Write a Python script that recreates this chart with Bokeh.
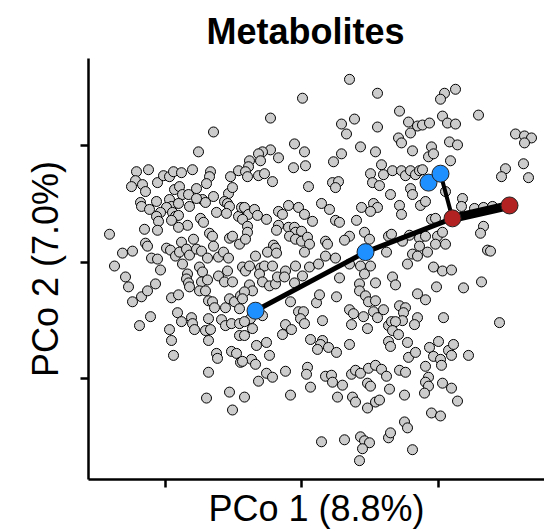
from bokeh.plotting import figure
from bokeh.models import Range1d, FixedTicker, ColumnDataSource
from bokeh.embed import file_html
from bokeh.resources import INLINE

# ---- sample scores (PCo 1, PCo 2), grouped by region ----
pc1_upper_left = [
    -0.088, -0.103, -0.165, -0.153, -0.166, -0.170, -0.159, -0.156, -0.144, -0.138,
    -0.132, -0.128, -0.120, -0.109, -0.091, -0.092, -0.095, -0.071, -0.063, -0.127,
    -0.122, -0.119, -0.113, -0.105, -0.112, -0.145, -0.161, -0.160, -0.152, -0.132,
    -0.130, -0.123, -0.135, -0.141, -0.145, -0.129, -0.126, -0.123, -0.130, -0.143,
    -0.099, -0.096, -0.088, -0.105, -0.073, -0.069, -0.077, -0.074, -0.072, -0.085,
    -0.075, -0.063, -0.060, -0.101, -0.098, -0.114, -0.123, -0.157, -0.144, -0.192,
    -0.108, -0.120, -0.092, -0.089, -0.088, -0.072, -0.069, -0.062, -0.156, -0.154,
    -0.179, -0.169, -0.135, -0.131, -0.126, -0.122, -0.115, -0.112, -0.105, -0.100,
    -0.094, -0.083, -0.078, -0.073, -0.150, -0.144]
pc2_upper_left = [
    0.131, 0.111, 0.091, 0.093, 0.082, 0.076, 0.078, 0.071, 0.080, 0.087,
    0.086, 0.091, 0.090, 0.093, 0.091, 0.086, 0.079, 0.086, 0.092, 0.073,
    0.076, 0.068, 0.068, 0.074, 0.056, 0.061, 0.060, 0.056, 0.053, 0.063,
    0.056, 0.059, 0.055, 0.050, 0.046, 0.050, 0.046, 0.047, 0.042, 0.041,
    0.063, 0.060, 0.066, 0.064, 0.069, 0.075, 0.061, 0.059, 0.056, 0.050,
    0.049, 0.046, 0.055, 0.044, 0.040, 0.037, 0.035, 0.033, 0.032, 0.028,
    0.023, 0.020, 0.029, 0.026, 0.016, 0.024, 0.026, 0.018, 0.019, 0.016,
    0.009, 0.011, 0.014, 0.012, 0.006, 0.010, 0.013, 0.007, 0.013, 0.011,
    0.004, 0.005, 0.010, 0.004, 0.004, 0.003]

pc1_upper_mid = [
    0.048, 0.001, 0.076, -0.031, 0.040, 0.053, 0.045, 0.076, -0.007, 0.003,
    0.059, 0.040, 0.032, 0.074, 0.080, -0.031, -0.039, -0.043, -0.041, -0.052,
    -0.023, -0.053, -0.056, -0.054, -0.043, -0.037, -0.029, -0.008, 0.004, 0.007,
    0.031, 0.037, 0.034, 0.069, 0.082, 0.071, 0.078, 0.089, 0.020, 0.028,
    0.060, 0.072, 0.076, 0.069, -0.057, -0.053, -0.047, -0.044, -0.035, -0.023,
    -0.019, -0.013, -0.003, 0.003, 0.011, -0.059, -0.054, -0.054, -0.056, -0.023,
    -0.025, -0.013, -0.007, -0.006, 0.000, -0.012, -0.006, 0.000, 0.006, 0.008,
    0.034, 0.038, 0.055, 0.063, 0.068, 0.048, 0.043, 0.024, 0.026, 0.087,
    0.090, -0.028, -0.026, -0.034, -0.025, -0.046, 0.003, 0.024, 0.034, 0.085]
pc2_upper_mid = [
    0.184, 0.165, 0.170, 0.145, 0.139, 0.144, 0.129, 0.136, 0.119, 0.111,
    0.116, 0.109, 0.101, 0.111, 0.098, 0.113, 0.111, 0.109, 0.102, 0.102,
    0.105, 0.096, 0.091, 0.086, 0.087, 0.089, 0.081, 0.095, 0.097, 0.076,
    0.080, 0.081, 0.075, 0.089, 0.088, 0.080, 0.077, 0.068, 0.059, 0.053,
    0.055, 0.059, 0.055, 0.051, 0.055, 0.048, 0.053, 0.047, 0.043, 0.051,
    0.048, 0.057, 0.055, 0.048, 0.041, 0.043, 0.036, 0.030, 0.023, 0.037,
    0.032, 0.035, 0.035, 0.030, 0.031, 0.026, 0.023, 0.021, 0.025, 0.018,
    0.042, 0.040, 0.042, 0.030, 0.023, 0.026, 0.022, 0.021, 0.018, 0.026,
    0.028, 0.017, 0.014, 0.010, 0.009, 0.006, 0.010, 0.006, 0.004, 0.010]

pc1_upper_right = [
    0.154, 0.143, 0.139, 0.098, 0.177, 0.141, 0.146, 0.154, 0.107, 0.116,
    0.121, 0.128, 0.097, 0.100, 0.109, 0.148, 0.156, 0.111, 0.130, 0.127,
    0.132, 0.214, 0.223, 0.230, 0.223, 0.149, 0.204, 0.200, 0.222, 0.227,
    0.091, 0.100, 0.104, 0.109, 0.114, 0.118, 0.121, 0.144, 0.109, 0.111,
    0.098, 0.100, 0.119, 0.124, 0.161, 0.160, 0.173, 0.182, 0.191, 0.130,
    0.134, 0.182, 0.179, 0.108, 0.101, 0.118, 0.124, 0.136, 0.141, 0.134,
    0.144, 0.118, 0.126, 0.111, 0.116, 0.186, 0.189]
pc2_upper_right = [
    0.174, 0.170, 0.164, 0.152, 0.148, 0.147, 0.140, 0.139, 0.141, 0.137,
    0.138, 0.140, 0.125, 0.120, 0.130, 0.121, 0.118, 0.112, 0.116, 0.106,
    0.109, 0.129, 0.127, 0.125, 0.120, 0.102, 0.094, 0.086, 0.099, 0.085,
    0.092, 0.092, 0.087, 0.092, 0.088, 0.092, 0.093, 0.071, 0.074, 0.068,
    0.057, 0.048, 0.057, 0.061, 0.064, 0.056, 0.054, 0.055, 0.056, 0.043,
    0.044, 0.036, 0.029, 0.027, 0.021, 0.024, 0.026, 0.026, 0.030, 0.018,
    0.018, 0.016, 0.010, 0.008, 0.006, 0.012, 0.011]

pc1_lower_left = [
    -0.187, -0.176, -0.173, -0.169, -0.160, -0.154, -0.146, -0.141, -0.130, -0.123,
    -0.124, -0.120, -0.110, -0.109, -0.107, -0.162, -0.151, -0.132, -0.130, -0.128,
    -0.119, -0.114, -0.115, -0.113, -0.112, -0.102, -0.099, -0.100, -0.094, -0.102,
    -0.096, -0.074, -0.083, -0.077, -0.069, -0.093, -0.089, -0.087, -0.076, -0.072,
    -0.067, -0.062, -0.061, -0.093, -0.080, -0.076, -0.070, -0.062, -0.096, -0.091,
    -0.093, -0.062, -0.070, -0.065, -0.061, -0.085, -0.084, -0.093, -0.095, -0.072,
    -0.069, -0.057]
pc2_lower_left = [
    -0.004, -0.015, -0.025, -0.040, -0.035, -0.029, -0.022, -0.008, -0.036, -0.033,
    -0.051, -0.060, -0.056, -0.062, -0.068, -0.064, -0.055, -0.068, -0.079, -0.094,
    -0.002, -0.012, -0.017, -0.021, -0.025, -0.005, -0.010, -0.020, -0.018, -0.029,
    -0.029, -0.009, -0.014, -0.020, -0.020, -0.039, -0.040, -0.046, -0.046, -0.037,
    -0.040, -0.047, -0.034, -0.057, -0.058, -0.064, -0.062, -0.062, -0.069, -0.068,
    -0.079, -0.074, -0.090, -0.092, -0.101, -0.092, -0.097, -0.111, -0.137, -0.131,
    -0.149, -0.136]

pc1_lower_mid = [
    -0.059, -0.056, -0.052, -0.041, -0.037, -0.029, -0.042, -0.039, -0.032, -0.026,
    -0.024, -0.016, -0.017, -0.007, -0.006, 0.001, 0.008, 0.017, -0.052, -0.049,
    -0.057, -0.059, -0.039, -0.051, -0.049, -0.057, -0.057, -0.011, -0.003, 0.002,
    -0.001, 0.003, 0.015, 0.018, 0.035, 0.038, 0.021, -0.016, -0.010, -0.019,
    0.048, 0.059, 0.063, 0.069, 0.058, 0.058, 0.074, 0.064, 0.067, 0.074,
    0.048, 0.052, 0.062, 0.072, 0.076, 0.082, 0.050, 0.066, 0.087, 0.090,
    0.009, 0.021, 0.019, 0.016, 0.027, 0.035, 0.048, -0.045, -0.035, -0.032,
    -0.050, -0.046, -0.059, -0.016, -0.035, -0.029, -0.043, 0.006, 0.005, 0.024,
    0.030, 0.031, 0.041, 0.009, -0.011, 0.036, 0.050, 0.054, 0.059, 0.067,
    0.074, 0.080, 0.085, 0.066, 0.069, 0.088, 0.051, 0.054, 0.066, 0.074,
    0.078, 0.087, 0.089, 0.020, 0.043, 0.059, 0.063, 0.068, 0.061, 0.087,
    0.089, 0.058]
pc2_lower_mid = [
    -0.005, -0.009, -0.004, -0.006, -0.004, -0.004, -0.012, -0.020, -0.024, -0.022,
    -0.015, -0.009, -0.015, -0.021, -0.004, -0.014, -0.005, -0.002, -0.023, -0.029,
    -0.030, -0.037, -0.054, -0.057, -0.067, -0.060, -0.074, -0.040, -0.050, -0.050,
    -0.057, -0.062, -0.041, -0.033, -0.035, -0.016, -0.059, -0.063, -0.068, -0.073,
    -0.002, -0.004, -0.012, -0.004, -0.022, -0.029, -0.021, -0.034, -0.040, -0.039,
    -0.048, -0.052, -0.055, -0.050, -0.056, -0.048, -0.063, -0.067, -0.064, -0.060,
    -0.078, -0.079, -0.083, -0.088, -0.086, -0.091, -0.083, -0.084, -0.081, -0.094,
    -0.098, -0.103, -0.100, -0.110, -0.112, -0.116, -0.120, -0.106, -0.113, -0.115,
    -0.114, -0.121, -0.124, -0.126, -0.134, -0.136, -0.113, -0.109, -0.112, -0.107,
    -0.104, -0.108, -0.115, -0.122, -0.125, -0.128, -0.136, -0.141, -0.147, -0.141,
    -0.139, -0.080, -0.085, -0.181, -0.179, -0.176, -0.180, -0.182, -0.188, -0.177,
    -0.172, -0.200]

pc1_lower_right = [
    0.106, 0.132, 0.141, 0.150, 0.180, 0.162, 0.135, 0.091, 0.094, 0.116,
    0.124, 0.098, 0.104, 0.102, 0.101, 0.094, 0.116, 0.113, 0.091, 0.097,
    0.142, 0.198, 0.106, 0.107, 0.114, 0.137, 0.128, 0.132, 0.139, 0.140,
    0.147, 0.152, 0.150, 0.167, 0.124, 0.098, 0.104, 0.127, 0.124, 0.127,
    0.123, 0.141, 0.150, 0.156, 0.103, 0.130, 0.139, 0.103, 0.106, 0.111]
pc2_lower_right = [
    -0.002, -0.005, -0.009, -0.008, -0.020, -0.026, -0.025, -0.015, -0.023, -0.032,
    -0.038, -0.044, -0.046, -0.051, -0.059, -0.060, -0.056, -0.063, -0.069, -0.073,
    -0.056, -0.061, -0.081, -0.096, -0.091, -0.080, -0.086, -0.095, -0.098, -0.104,
    -0.089, -0.083, -0.094, -0.094, -0.105, -0.109, -0.111, -0.116, -0.121, -0.125,
    -0.132, -0.122, -0.127, -0.140, -0.134, -0.152, -0.155, -0.161, -0.167, -0.189]

pc1 = (pc1_upper_left + pc1_upper_mid + pc1_upper_right
       + pc1_lower_left + pc1_lower_mid + pc1_lower_right)
pc2 = (pc2_upper_left + pc2_upper_mid + pc2_upper_right
       + pc2_lower_left + pc2_lower_mid + pc2_lower_right)
assert len(pc1) == len(pc2)

# ---- group centroids and trajectory ----
cent_pc1 = [-0.046, 0.064, 0.127, 0.139, 0.151, 0.208]
cent_pc2 = [-0.049, 0.010, 0.080, 0.089, 0.044, 0.057]
cent_group = ["blue", "blue", "blue", "blue", "red", "red"]
seg_from = [0, 1, 4, 3, 2]
seg_to = [1, 4, 5, 4, 3]
seg_width = [5, 5, 9, 4, 4]

# tick positions (labels are not shown in the chart)
x_ticks = [-0.136, 0.0, 0.137]
y_ticks = [-0.117, 0.0, 0.117]

title_text = "Metabolites"
x_label = "PCo 1 (8.8%)"
y_label = "PCo 2 (7.0%)"

group_colors = {"blue": "#1E90FF", "red": "#B22222"}
FONT = "Liberation Sans"

p = figure(width=544, height=531,
           min_border_left=88, min_border_right=0, min_border_top=58, min_border_bottom=49,
           x_range=Range1d(-0.213, 0.243), y_range=Range1d(-0.219, 0.205),
           output_backend="svg", toolbar_location=None)
p.outline_line_color = None
p.grid.visible = False
p.background_fill_color = "white"
p.border_fill_color = "white"

p.title.text = title_text
p.title.text_font = FONT
p.title.text_font_size = "36px"
p.title.text_font_style = "bold"
p.title.text_color = "black"
p.title.align = "left"
p.title.offset = 118
p.title.standoff = 14

for ax, ticks in ((p.xaxis[0], x_ticks), (p.yaxis[0], y_ticks)):
    ax.ticker = FixedTicker(ticks=ticks)
    ax.major_label_text_color = None
    ax.major_label_text_font_size = "1px"
    ax.major_label_standoff = 0
    ax.axis_line_width = 2.5
    ax.axis_line_color = "black"
    ax.major_tick_line_width = 2.5
    ax.major_tick_line_color = "black"
    ax.major_tick_out = 8
    ax.major_tick_in = 0
    ax.minor_tick_line_color = None
    ax.axis_label_text_font = FONT
    ax.axis_label_text_font_size = "36px"
    ax.axis_label_text_font_style = "normal"
    ax.axis_label_text_color = "black"

p.xaxis.axis_label = x_label
p.xaxis.axis_label_standoff = 0
p.yaxis.axis_label = y_label
p.yaxis.axis_label_standoff = 15

p.scatter(pc1, pc2, size=10, fill_color="#CCCCCC", line_color="black", line_width=1)

seg_src = ColumnDataSource(dict(
    x0=[cent_pc1[i] for i in seg_from], y0=[cent_pc2[i] for i in seg_from],
    x1=[cent_pc1[i] for i in seg_to], y1=[cent_pc2[i] for i in seg_to],
    w=seg_width))
p.segment(x0="x0", y0="y0", x1="x1", y1="y1", line_width="w", line_color="black",
          line_cap="round", source=seg_src)

cent_src = ColumnDataSource(dict(x=cent_pc1, y=cent_pc2,
                                 c=[group_colors[g] for g in cent_group]))
p.scatter("x", "y", size=17, fill_color="c", line_color="#222222", line_width=1,
          source=cent_src)

open("out.html", "w").write(file_html(p, INLINE))
